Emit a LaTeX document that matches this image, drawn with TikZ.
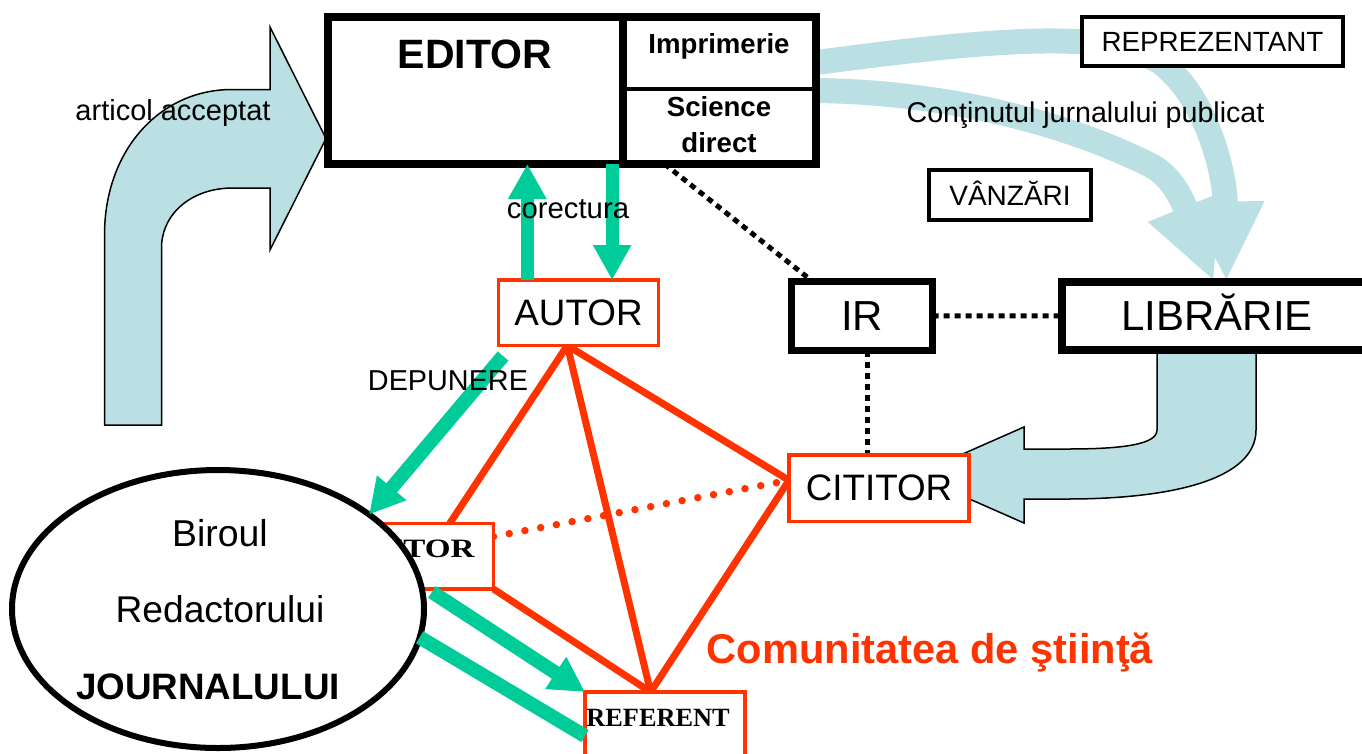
\documentclass[tikz,border=0pt]{standalone}
\usepackage{fontspec}
\setmainfont{Liberation Sans}
\newfontfamily\timesfont{Liberation Serif}
\newfontfamily\timeswide[FakeStretch=1.25]{Liberation Serif}
\usetikzlibrary{arrows.meta,calc,shapes.geometric}
\pgfdeclarelayer{bands}
\pgfdeclarelayer{links}
\pgfsetlayers{bands,links,main}
\definecolor{bandblue}{RGB}{187,224,227}
\definecolor{flowgreen}{RGB}{0,204,153}
\definecolor{commred}{RGB}{255,51,0}
\newcommand{\fsize}[1]{\fontsize{#1}{#1}\selectfont}

\begin{document}
\begin{tikzpicture}[x=1pt,y=-1pt,
  blackbox/.style={draw=black, fill=white, line width=7pt, inner sep=0pt, outer sep=0pt},
  thinbox/.style={draw=black, fill=white, line width=4pt, inner sep=0pt, outer sep=0pt},
  redbox/.style={draw=commred, fill=white, line width=3.2pt, inner sep=0pt, outer sep=0pt},
  txt/.style={inner sep=0pt, anchor=base},
  bentarrow/.style={draw=black, line width=1.5pt, fill=bandblue},
  band/.style={draw=bandblue, line width=25pt, -{Triangle[width=72pt,length=80pt]}},
  flow/.style={draw=flowgreen, line width=14pt, -{Triangle[width=36pt,length=35pt]}},
  flowline/.style={draw=flowgreen, line width=14pt},
  commline/.style={draw=commred, line width=7pt},
  commdots/.style={draw=commred, line width=7.5pt, line cap=round, dash pattern=on 0pt off 16pt},
  linkdots/.style={draw=black, line width=5pt, dash pattern=on 6pt off 5pt}]
\useasboundingbox (0,0) rectangle (1362,753);
%Shape: EDITOR block
\node[blackbox, line width=8pt, minimum width=488.5pt, minimum height=147pt] (editor) at (571.75,90.5) {};
\draw[line width=8pt] (622.5,17) -- (622.5,164);
\draw[line width=4pt] (622.5,88.5) -- (816,88.5);
\node[txt, font={\fsize{41}\bfseries}] (edtitle) at (475,68) {EDITOR};
\node[txt, font={\fsize{27.6}\bfseries}] (print) at (719,53) {Imprimerie};
\node[inner sep=0pt, align=center, font={\fontsize{27.6}{36}\selectfont\bfseries}] (scidir) at (719,125) {Science\\direct};
%Shape: boxes
\node[thinbox, minimum width=261pt, minimum height=49pt, font=\fsize{27.8}] (reprez) at (1212.5,41.5) {REPREZENTANT};
\node[thinbox, minimum width=162pt, minimum height=50pt, font=\fsize{28}, text height=20pt] (vanzari) at (1010,195) {VÂNZĂRI};
\node[blackbox, minimum width=141pt, minimum height=69pt, font=\fsize{42}] (ir) at (862,316) {IR};
\node[blackbox, line width=8pt, minimum width=310pt, minimum height=68.5pt, font=\fsize{42}, text height=30pt] (librarie) at (1217,315.75) {LIBRĂRIE};
\node[redbox, minimum width=160pt, minimum height=65.5pt, font=\fsize{36.8}] (autor) at (578.5,312.75) {AUTOR};
\node[redbox, minimum width=180pt, minimum height=66.5pt, font=\fsize{36.8}] (cititor) at (879,488.25) {CITITOR};
\node[redbox, minimum width=160pt, minimum height=88pt] (referent) at (665,736) {};
\node[txt, font={\timesfont\fsize{26.3}\bfseries}] (reftxt) at (658,726) {REFERENT};
\node[redbox, minimum width=141.5pt, minimum height=65.5pt] (smalled) at (422.75,556.25) {};
\node[txt, font={\timeswide\fsize{26.5}\bfseries}] (smalledtxt) at (409.5,557) {EDITOR};
%Shape: Ellipse
\node[draw, ellipse, fill=white, line width=6pt, minimum width=412pt, minimum height=278pt, inner sep=0pt, outer sep=0pt] (birou) at (218,609) {};
\node[txt, font=\fsize{37.4}] (birtxt) at (220,546) {Biroul};
\node[txt, font=\fsize{37.2}] (redtxt) at (220,622) {Redactorului};
\node[txt, font={\fsize{36.8}\bfseries}] (jourtxt) at (208,699) {JOURNALULUI};
%Coordinates
\coordinate (autfoot) at ($(autor.south west)!0.43!(autor.south east)$);
\coordinate (citleft) at ($(cititor.north west)!0.38!(cititor.south west)$);
\coordinate (reftop) at ($(referent.north west)!0.41!(referent.north east)$);
\coordinate (edtop) at ($(smalled.north west)!0.69!(smalled.north east)$);
\coordinate (edright) at ($(smalled.north east)!0.2!(smalled.south east)$);
\coordinate (irfoot) at ($(ir.south west)!0.54!(ir.south east)$);
\coordinate (corup) at ($(autor.north west)!0.18!(autor.north east)$);
\coordinate (cordown) at ($(autor.north west)!0.71!(autor.north east)$);
\coordinate (depstart) at (503,356);
\coordinate (revout) at (432,592);
%Block arrows
\begin{pgfonlayer}{bands}
\draw[band] ($(editor.north east)!0.31!(editor.south east)$) .. controls (1000,38) and (1110,30) .. (1160,62) .. controls (1205,95) and (1225,170) .. ($(librarie.north west)!0.53!(librarie.north east)$);
\draw[band] (editor.east) .. controls (940,92) and (1060,120) .. (1150,165) .. controls (1180,180) and (1190,222) .. ($(librarie.north west)!0.49!(librarie.north east)$);
\draw[bentarrow] (104.5,425) -- (104.5,235) .. controls (104.5,150) and (160,89.5) .. (232,89.5) -- (270,89.5) -- (270,27) -- (326,138.5) -- (270,250) -- (270,188) -- (233,188) .. controls (190,188) and (161.5,215) .. (161.5,248) -- (161.5,425) -- cycle;
\draw[bentarrow] (1157,351) -- (1157,430) .. controls (1157,445) and (1120,449) .. (1067,449) -- (1024,449) -- (1024,427) -- (915,475) -- (1024,523) -- (1024,499) -- (1067,499) .. controls (1170,499) and (1256,480) .. (1256,430) -- (1256,351) -- cycle;
\end{pgfonlayer}
%Straight Lines
\begin{pgfonlayer}{links}
\draw[commline] (autfoot) -- (edtop);
\draw[commline] (autfoot) -- (reftop);
\draw[commline] (autfoot) -- (citleft);
\draw[commline] (citleft) -- (reftop);
\draw[commline] (smalled.south east) -- (reftop);
\draw[commdots] (edright) -- (citleft);
\draw[linkdots] ($(editor.south west)!0.69!(editor.south east)$) -- ($(ir.north west)!0.15!(ir.north east)$);
\draw[linkdots] (ir.east) -- (librarie.west);
\draw[linkdots] (irfoot) -- (irfoot |- cititor.north);
\end{pgfonlayer}
%Green arrows
\draw[flow, line width=13pt] (corup) -- (corup |- editor.south);
\draw[flow, line width=13pt] (cordown |- editor.south) -- (cordown);
\draw[flow] (depstart) -- (birou.32);
\draw[flow] (revout) -- (referent.north west);
\draw[flowline] (birou.-8) -- (referent.west);
% Text Node
\node[txt, font=\fsize{29}] (accept) at (173,120) {articol acceptat};
\node[txt, font=\fsize{28.6}] (content) at (1085.5,122) {Conţinutul jurnalului publicat};
\node[txt, font=\fsize{29.3}] (proof) at (568,218) {corectura};
\node[txt, font=\fsize{28.8}] (submit) at (448,390) {DEPUNERE};
\node[txt, font={\fsize{41.6}\bfseries}, text=commred] (community) at (930,663) {Comunitatea de ştiinţă};
\end{tikzpicture}
\end{document}
